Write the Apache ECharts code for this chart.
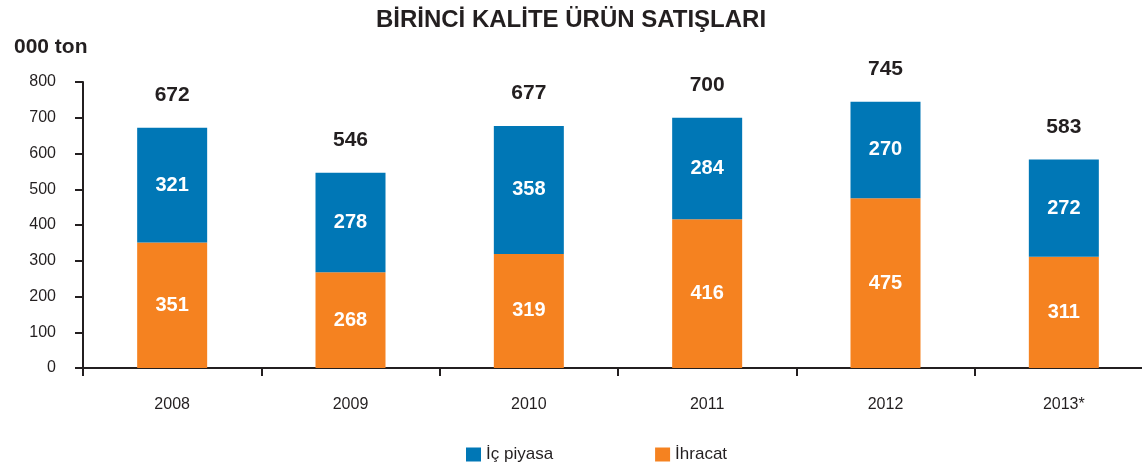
<!DOCTYPE html>
<html>
<head>
<meta charset="utf-8">
<script src="https://cdn.jsdelivr.net/npm/echarts@6/dist/echarts.min.js"></script>
<style>
html,body{margin:0;padding:0;background:#fff;}
#chart{width:1142px;height:472px;}
</style>
</head>
<body>
<div id="chart"></div>
<script>
//---- data
var years    = ['2008','2009','2010','2011','2012','2013*'];
var ihracat  = [351, 268, 319, 416, 475, 311];
var icPiyasa = [321, 278, 358, 284, 270, 272];
var totals   = [672, 546, 677, 700, 745, 583];

var FONT = 'Liberation Sans, Arial, sans-serif';
var TXT  = '#231f20';
var BLUE = '#0077b6';
var ORANGE = '#f58220';

var chart = echarts.init(document.getElementById('chart'));

var option = {
	animation: false,
	textStyle: {fontFamily: FONT},
	title: [{
		text: 'BİRİNCİ KALİTE ÜRÜN SATIŞLARI',
		left: 'center',
		top: 3,
		textStyle: {fontFamily: FONT, fontSize: 24, fontWeight: 'bold', color: TXT}
	}, {
		text: '000 ton',
		left: 9,
		top: 32,
		textStyle: {fontFamily: FONT, fontSize: 21, fontWeight: 'bold', color: TXT}
	}],
	legend: {
		bottom: 4,
		left: 461,
		itemWidth: 15,
		itemHeight: 14,
		itemGap: 102,
		icon: 'rect',
		textStyle: {fontFamily: FONT, fontSize: 17, color: TXT},
		data: ['İç piyasa', 'İhracat']
	},
	grid: {left: 83, top: 82, bottom: 104, width: 1070, outerBoundsMode: 'none'},
	xAxis: {
		type: 'category',
		data: years,
		axisLine: {lineStyle: {color: TXT, width: 2}},
		axisTick: {show: true, alignWithLabel: false, length: 8, lineStyle: {color: TXT, width: 2}},
		axisLabel: {fontSize: 16, color: TXT, margin: 29}
	},
	yAxis: {
		type: 'value',
		min: 0,
		max: 800,
		interval: 100,
		splitLine: {show: false},
		axisLine: {show: true, lineStyle: {color: TXT, width: 2}},
		axisTick: {show: true, length: 8, lineStyle: {color: TXT, width: 2}},
		axisLabel: {fontSize: 16, color: TXT, margin: 27}
	},
	series: [{
		name: 'İhracat',
		type: 'bar',
		stack: 'a',
		barWidth: 70,
		data: ihracat,
		itemStyle: {color: ORANGE},
		label: {show: true, position: 'inside', color: '#fff', fontSize: 20, fontWeight: 'bold', fontFamily: FONT}
	}, {
		name: 'İç piyasa',
		type: 'bar',
		stack: 'a',
		data: icPiyasa,
		itemStyle: {color: BLUE},
		label: {show: true, position: 'inside', color: '#fff', fontSize: 20, fontWeight: 'bold', fontFamily: FONT}
	}, {
		name: 'toplam',
		type: 'bar',
		stack: 'a',
		data: totals.map(function(){return 0;}),
		itemStyle: {color: 'transparent'},
		label: {
			show: true, position: 'top', distance: 22,
			color: TXT, fontSize: 21, fontWeight: 'bold', fontFamily: FONT,
			formatter: function(p){return totals[p.dataIndex];}
		}
	}]
};

chart.setOption(option);
</script>
</body>
</html>
